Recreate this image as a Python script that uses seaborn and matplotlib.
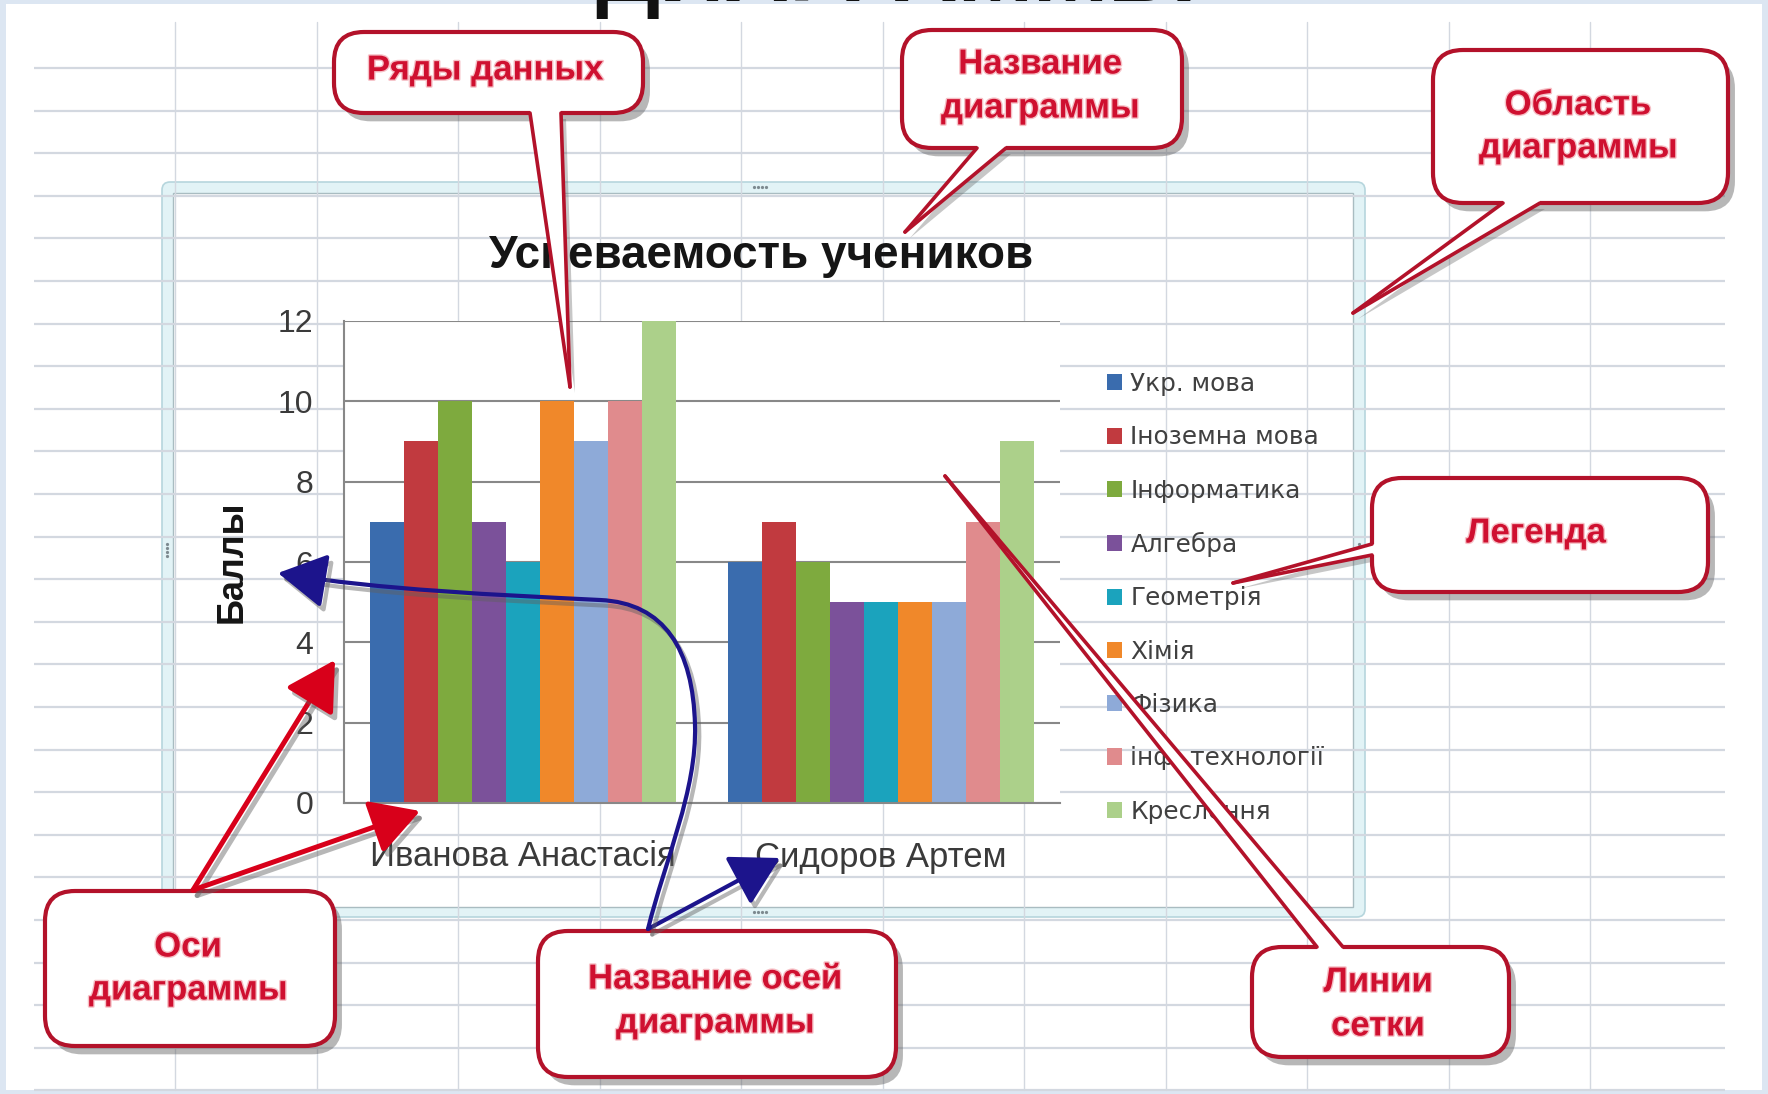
import matplotlib
matplotlib.use("Agg")
import matplotlib.pyplot as plt
import matplotlib.patheffects as pe
import matplotlib.transforms as mtransforms
import numpy as np
import pandas as pd
import seaborn as sns
from matplotlib.patches import FancyBboxPatch, Polygon, Rectangle, FancyArrowPatch
from matplotlib.path import Path

# ---- chart data -----------------------------------------------------------
students = ["Иванова Анастасія", "Сидоров Артем"]
subjects = ["Укр. мова", "Іноземна мова", "Інформатика", "Алгебра", "Геометрія",
            "Хімія", "Фізика", "інф. технології", "Креслення"]
scores_ivanova = [7, 9, 10, 7, 6, 10, 9, 10, 12]
scores_sidorov = [6, 7, 6, 5, 5, 5, 5, 7, 9]
subject_colors = ["#3a6cae", "#c13a3f", "#7eaa3e", "#7b519a", "#1ba3bd",
                  "#f0882a", "#8eaad8", "#e08b8d", "#acd08a"]
y_ticks = [0, 2, 4, 6, 8, 10, 12]
chart_title = "Успеваемость учеников"
y_title = "Баллы"

W, H = 1768, 1094

sns.set_style("white")
plt.rcParams["font.family"] = ["Liberation Sans", "DejaVu Sans"]

fig = plt.figure(figsize=(W / 100, H / 100), dpi=100)
fig.patch.set_facecolor("#dce6f2")

# pixel-space layers: worksheet underneath, callouts on top
bg = fig.add_axes([0, 0, 1, 1], zorder=0)
ov = fig.add_axes([0, 0, 1, 1], zorder=10)
for a in (bg, ov):
    a.set_xlim(0, W)
    a.set_ylim(H, 0)
    a.axis("off")

# worksheet with its cell grid
bg.add_patch(Rectangle((6, 4), W - 12, H - 8, facecolor="white", edgecolor="none"))
cell_c = "#d3d8e0"
for y in np.arange(68, 1092, 42.6):
    bg.plot([34, 1725], [y, y], color=cell_c, lw=1.6, solid_capstyle="butt")
for x in np.arange(175, 1725, 141.5):
    bg.plot([x, x], [22, 1090], color=cell_c, lw=1.0)

# chart object frame
bg.add_patch(FancyBboxPatch((162, 182), 1203, 735, boxstyle="round,pad=0,rounding_size=8",
                            facecolor="#e2f3f6", edgecolor="#b6d6dd", lw=1.2))
bg.add_patch(Rectangle((173, 193), 1180, 714, facecolor="white", edgecolor="#a9bcc1", lw=1.0))
for (hx, hy) in [(760, 187), (760, 912), (167, 550), (1359, 550)]:
    horiz = hy in (187, 912)
    for k in range(4):
        dx, dy = ((k - 1.5) * 4, 0) if horiz else (0, (k - 1.5) * 4)
        bg.plot(hx + dx, hy + dy, "o", ms=1.3, color="#7d8a90")

# ---- the bar chart --------------------------------------------------------
ax = fig.add_axes([344 / W, 1 - 803 / H, 716 / W, 482 / H], zorder=5)
df = pd.DataFrame({
    "Учень": np.repeat(students, len(subjects)),
    "Предмет": subjects * len(students),
    "Бали": scores_ivanova + scores_sidorov,
})
sns.barplot(data=df, x="Учень", y="Бали", hue="Предмет", order=students,
            hue_order=subjects, palette=subject_colors, saturation=1,
            width=9 / 10.5, gap=0, linewidth=0, errorbar=None, ax=ax)
ax.set_xlim(-0.5, 1.5)
ax.set_ylim(0, 12)
ax.set_yticks(y_ticks)
ax.set_facecolor("white")
ax.grid(axis="y", color="#888888", lw=1.5)
ax.set_axisbelow(True)
for s in ("top", "right"):
    ax.spines[s].set_visible(False)
for s in ("left", "bottom"):
    ax.spines[s].set_color("#888888")
    ax.spines[s].set_linewidth(1.5)
ax.tick_params(axis="both", length=0, labelcolor="#3a3a3a")
ax.tick_params(axis="y", pad=22, labelsize=23)
ax.tick_params(axis="x", pad=27, labelsize=25)
ax.set_xlabel("")
ax.set_ylabel(y_title, fontsize=26, fontweight="bold", color="#151515")
ax.yaxis.set_label_coords(-0.132, 0.50)
ax.set_title(chart_title, fontsize=33, fontweight="bold", color="#151515",
             x=0.582, pad=38)

handles, labels = ax.get_legend_handles_labels()
ax.legend(handles, labels, loc="upper left", bbox_to_anchor=(1107 / W, 1 - 372 / H),
          bbox_transform=fig.transFigure, frameon=False,
          prop={"family": "DejaVu Sans", "size": 17.8}, labelcolor="#404040",
          handlelength=0.62, handleheight=0.62, handletextpad=0.33,
          labelspacing=1.185, borderpad=0, borderaxespad=0)

# ---- callouts -------------------------------------------------------------
EDGE = "#b3122a"
TXT = "#cf1030"
RED = "#d8001a"
BLUE = "#1c148c"
shadow = [pe.SimplePatchShadow(offset=(5, -6), shadow_rgbFace="#606060", alpha=0.45), pe.Normal()]
line_shadow = [pe.SimpleLineShadow(offset=(3, -4), shadow_color="#606060", alpha=0.45), pe.Normal()]
text_fx = [pe.withStroke(linewidth=2, foreground="#f6c0c6")]


def callout(x0, y0, x1, y1, lines, wedge=None):
    if wedge is not None:
        b1, b2, tip, inward = wedge
        ov.add_patch(Polygon([b1, b2, tip], closed=True, fc="#606060", ec="none",
                             alpha=0.35, zorder=2,
                             transform=ov.transData + mtransforms.Affine2D().translate(5, -6)))
    ov.add_patch(FancyBboxPatch((x0, y0), x1 - x0, y1 - y0,
                                boxstyle="round,pad=0,rounding_size=30",
                                fc="white", ec=EDGE, lw=3, zorder=3, path_effects=shadow))
    if wedge is not None:
        ib1 = (b1[0] + inward[0], b1[1] + inward[1])
        ib2 = (b2[0] + inward[0], b2[1] + inward[1])
        ov.add_patch(Polygon([ib1, ib2, b2, tip, b1], closed=True, fc="white", ec="none", zorder=4))
        for b in (b1, b2):
            ov.plot([b[0], tip[0]], [b[1], tip[1]], color=EDGE, lw=2.6, zorder=5,
                    solid_capstyle="round")
    for (cx, cy, t) in lines:
        ov.text(cx, cy, t, ha="center", va="center", fontsize=25, fontweight="bold",
                color=TXT, zorder=6, path_effects=text_fx)


def arrow(p0, p1, color, lw, hl=1.5, hw=0.85, path=None):
    style = f"-|>,head_length={hl},head_width={hw}"
    if path is not None:
        a = FancyArrowPatch(path=path, arrowstyle=style, mutation_scale=20, color=color,
                            lw=lw, zorder=7, path_effects=line_shadow)
    else:
        a = FancyArrowPatch(p0, p1, arrowstyle=style, mutation_scale=20, color=color,
                            lw=lw, shrinkA=0, shrinkB=0, zorder=7, path_effects=line_shadow)
    ov.add_patch(a)


callout(334, 32, 643, 113, [(485, 70, "Ряды данных")],
        wedge=((530, 113), (561, 113), (570, 387), (0, -8)))
callout(902, 30, 1182, 148, [(1040, 64, "Название"), (1040, 108, "диаграммы")],
        wedge=((977, 148), (1006, 148), (905, 232), (0, -8)))
callout(1433, 50, 1728, 203, [(1578, 105, "Область"), (1578, 148, "диаграммы")],
        wedge=((1503, 203), (1540, 203), (1353, 313), (0, -8)))
callout(1372, 478, 1708, 592, [(1536, 533, "Легенда")],
        wedge=((1372, 544), (1372, 555), (1233, 583), (8, 0)))
callout(1252, 947, 1509, 1057, [(1378, 982, "Линии"), (1378, 1026, "сетки")],
        wedge=((1317, 947), (1343, 947), (945, 476), (0, 8)))
callout(538, 931, 896, 1077, [(715, 979, "Название осей"), (715, 1023, "диаграммы")])
callout(45, 891, 335, 1046, [(188, 947, "Оси"), (188, 990, "диаграммы")])

# arrows to the axes
arrow((193, 890), (335, 660), RED, 3.6)
arrow((193, 890), (420, 811), RED, 3.6)
# arrows to the axis titles
arrow((648, 929), (780, 858), BLUE, 3.0)
curve = Path([(648, 929), (665, 860), (697, 790), (695, 725),
              (693, 650), (665, 603), (600, 600),
              (500, 595), (380, 590), (278, 573)],
             [Path.MOVETO, Path.CURVE4, Path.CURVE4, Path.CURVE4,
              Path.CURVE4, Path.CURVE4, Path.CURVE4,
              Path.CURVE4, Path.CURVE4, Path.CURVE4])
arrow(None, None, BLUE, 3.0, path=curve)

# slide heading running off the top edge
ov.text(896, 1, "ДИАГРАММЫ", ha="center", va="baseline", fontsize=65,
        fontweight="bold", color="#111111", zorder=1)

fig.savefig("out.png", dpi=100, facecolor=fig.get_facecolor())
